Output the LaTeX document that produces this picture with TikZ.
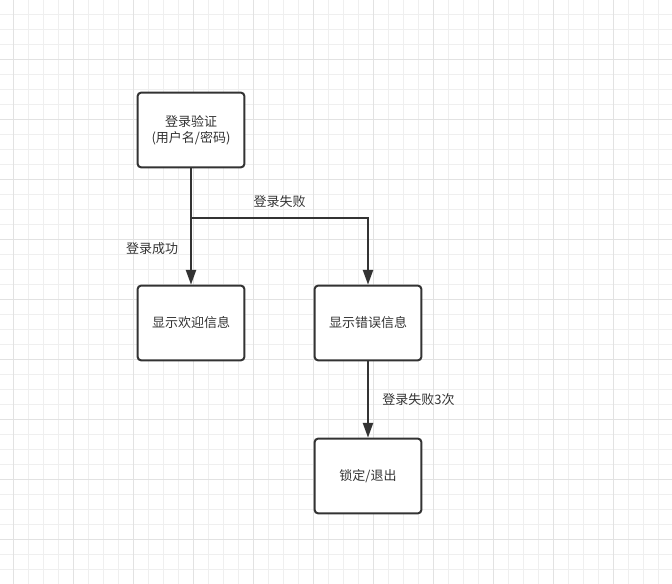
\documentclass[tikz,border=0pt]{standalone}
\usepackage{fontspec}
\setmainfont{Noto Sans CJK SC}
\usetikzlibrary{arrows.meta, positioning}
\definecolor{ink}{HTML}{333333}
\definecolor{gridminor}{HTML}{EFEFEF}
\definecolor{gridmajor}{HTML}{E2E2E2}
\tikzset{
  box/.style={draw=ink, line width=1.5pt, rounded corners=2.5pt, fill=white,
    minimum width=80pt, minimum height=56pt, align=center, text=ink,
    font=\fontsize{9.75}{12}\selectfont},
  flow/.style={draw=ink, line width=1.5pt, -{Triangle[length=11pt, width=7.5pt]}},
  lbl/.style={text=ink, inner sep=0pt, font=\fontsize{9.75}{12}\selectfont},
  gridline/.style={draw=gridminor, line width=0.75pt},
  gridbold/.style={draw=gridmajor, line width=0.75pt}
}

\begin{document}
\begin{tikzpicture}[x=0.75pt, y=-0.75pt, on grid]
    \useasboundingbox (0,0) rectangle (672,584);
    % background grid
    \foreach \i in {0,...,43} \draw[gridline] ({13+15*\i},0) -- ({13+15*\i},584);
    \foreach \j in {0,...,38} \draw[gridline] (0,{15*\j}) -- (672,{15*\j});
    \foreach \i in {0,...,10} \draw[gridbold] ({13+60*\i},0) -- ({13+60*\i},584);
    \foreach \j in {0,...,9} \draw[gridbold] (0,{60*\j}) -- (672,{60*\j});

    \node[box] (login) at (191,130) {登录验证\\(用户名/密码)};
    \node[box] (welcome) [below=144.75pt of login] {显示欢迎信息};
    \node[box] (error) [right=132.75pt of welcome] {显示错误信息};
    \node[box] (lock) [below=114.75pt of error] {锁定/退出};
    \coordinate (split) at ([yshift=-37pt]login.south);

    \draw[flow] (login) -- node[lbl, pos=0.69, left=9pt] {登录成功} (welcome);
    \draw[flow] (split) -| node[lbl, pos=0.25, above=7pt] {登录失败} (error);
    \draw[flow] (error) -- node[lbl, pos=0.5, right=10pt] {登录失败3次} (lock);
\end{tikzpicture}
\end{document}
